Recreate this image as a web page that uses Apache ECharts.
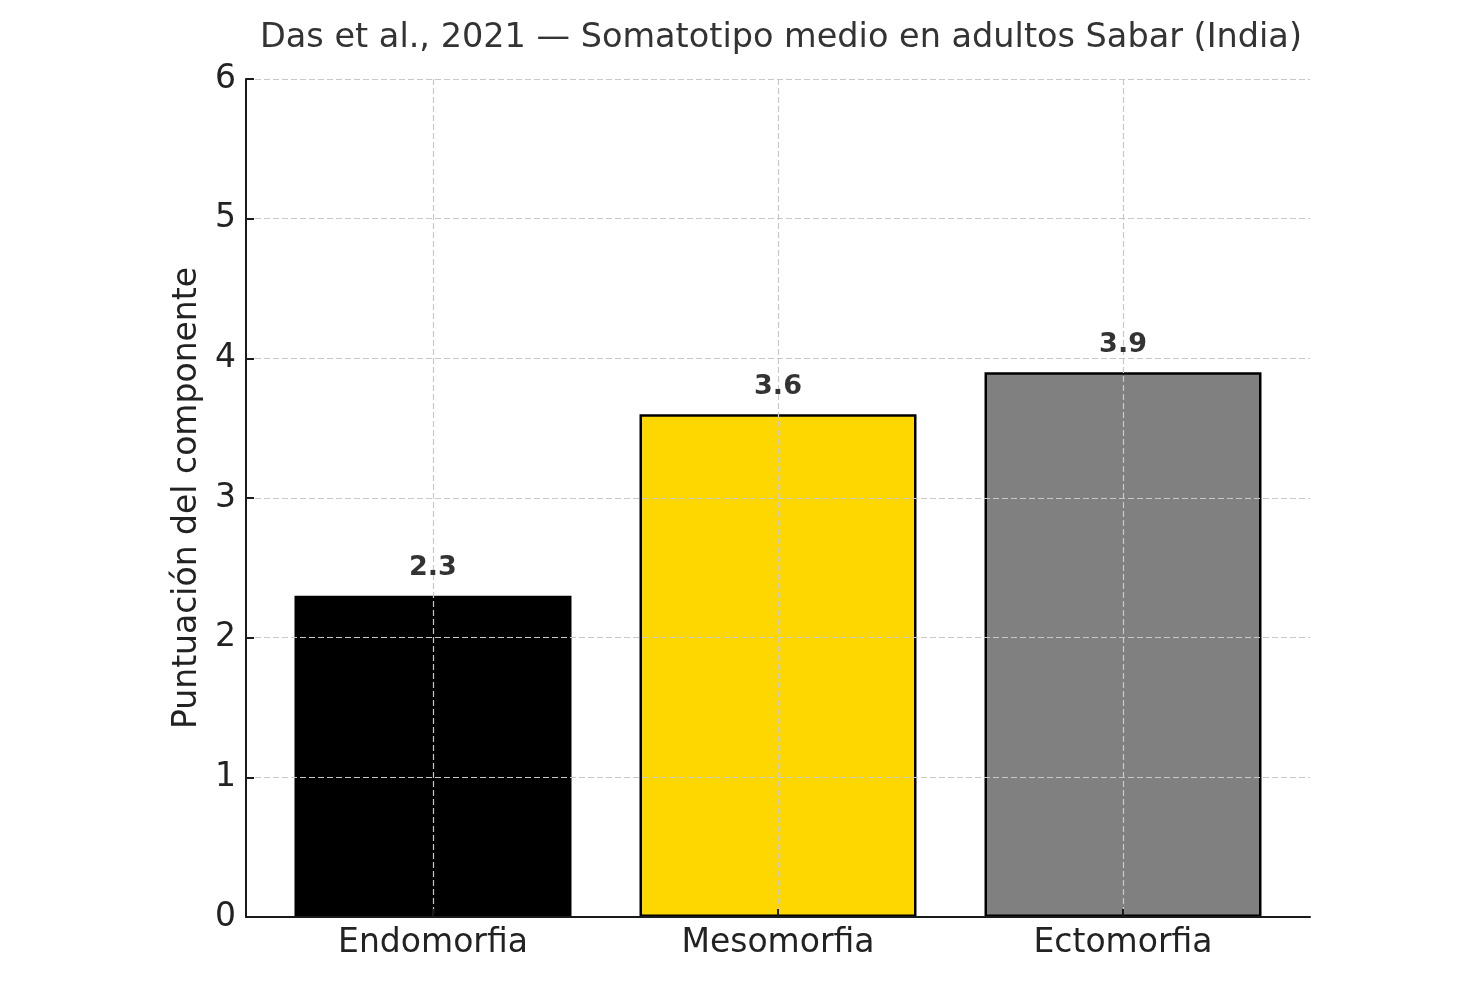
<!DOCTYPE html>
<html>
<head>
<meta charset="utf-8">
<script src="https://cdn.jsdelivr.net/npm/echarts@6/dist/echarts.min.js"></script>
<style>
  html, body { margin: 0; padding: 0; background: #fff; }
  #chart { width: 1479px; height: 990px; }
</style>
</head>
<body>
<div id="chart"></div>
<script>
var categories = ['Endomorfia', 'Mesomorfia', 'Ectomorfia'];
var scores = [2.3, 3.6, 3.9];
var barColors = ['#000000', '#FFD700', '#808080'];
var yTicks = [0, 1, 2, 3, 4, 5, 6];

var font = 'DejaVu Sans';
var positions = categories.map(function (c, i) { return i; });

var barData = scores.map(function (v, i) {
    return { value: [i, v], itemStyle: { color: barColors[i] } };
});
var labelData = scores.map(function (v, i) { return [i, v]; });

var gridLine = { show: true, lineStyle: { color: '#c8c8c8', type: [6, 3], width: 1.2 } };

var option = {
    animation: false,
    textStyle: { fontFamily: font },
    title: {
        text: 'Das et al., 2021 — Somatotipo medio en adultos Sabar (India)',
        left: 776,
        textAlign: 'center',
        top: 16,
        textStyle: { fontFamily: font, fontSize: 33.5, fontWeight: 'normal', color: '#333333' }
    },
    grid: { left: 246, right: 169, top: 79, bottom: 73, containLabel: false },
    xAxis: {
        type: 'value',
        min: -0.542,
        max: 2.542,
        z: 2,
        axisLine: { show: true, onZero: false, lineStyle: { color: '#1a1a1a', width: 2 } },
        axisTick: { show: true, inside: true, length: 8, customValues: positions,
            lineStyle: { color: '#1a1a1a', width: 2 } },
        axisLabel: {
            customValues: positions,
            formatter: function (v) { return categories[Math.round(v)]; },
            fontSize: 33, color: '#222222', margin: 10, fontFamily: font
        },
        splitLine: gridLine
    },
    yAxis: {
        type: 'value',
        min: yTicks[0],
        max: yTicks[yTicks.length - 1],
        interval: 1,
        z: 2,
        name: 'Puntuación del componente',
        nameLocation: 'middle',
        nameGap: 42,
        nameTextStyle: { fontSize: 33, color: '#222222', fontFamily: font },
        axisLine: { show: true, onZero: false, lineStyle: { color: '#1a1a1a', width: 2 } },
        axisTick: { show: true, inside: true, length: 8, lineStyle: { color: '#1a1a1a', width: 2 } },
        axisLabel: { fontSize: 33, color: '#222222', margin: 10, fontFamily: font },
        splitLine: gridLine
    },
    series: [
        {
            type: 'bar',
            z: 1,
            barWidth: 277,
            data: barData,
            itemStyle: { borderColor: '#000000', borderWidth: 2.5 }
        },
        {
            type: 'bar',
            z: 3,
            barWidth: 277,
            barGap: '-100%',
            data: labelData,
            itemStyle: { color: 'rgba(0,0,0,0)' },
            label: {
                show: true,
                position: 'top',
                distance: 14,
                fontSize: 27,
                fontWeight: 'bold',
                color: '#333333',
                fontFamily: font,
                formatter: function (p) { return p.value[1].toFixed(1); }
            }
        }
    ]
};

var chart = echarts.init(document.getElementById('chart'));
chart.setOption(option);
</script>
</body>
</html>
